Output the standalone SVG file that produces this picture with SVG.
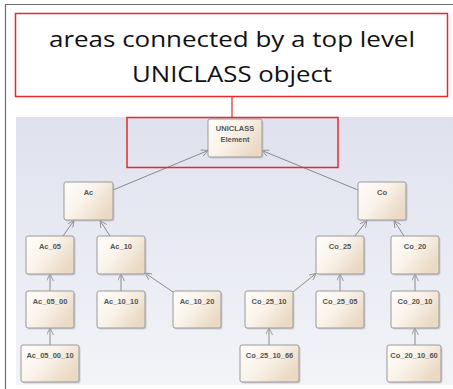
<svg xmlns="http://www.w3.org/2000/svg" width="453" height="389" viewBox="0 0 453 389">
<style>
.n rect.b{fill:url(#ng);stroke:#9a9a9a;stroke-width:1}
.n rect.s{fill:#b8b8c0;opacity:0.6}
.n text{font-family:"Liberation Sans",Arial,sans-serif;font-size:7.5px;font-weight:bold;fill:#555;text-anchor:middle}
.c line{stroke:#8a8a8a;stroke-width:1;marker-end:url(#ar)}
.t{font-family:"Open Sans","Liberation Sans",sans-serif;font-size:22px;fill:#111;text-anchor:middle}
</style>
<defs>
<linearGradient id="bg" x1="0" y1="0" x2="0" y2="1">
<stop offset="0" stop-color="#dfe1ee"/>
<stop offset="1" stop-color="#f3f4f8"/>
</linearGradient>
<linearGradient id="ng" x1="0" y1="0" x2="1" y2="0.6">
<stop offset="0" stop-color="#fffdfb"/>
<stop offset="0.5" stop-color="#faf3ea"/>
<stop offset="1" stop-color="#ead9c4"/>
</linearGradient>
<marker id="ar" viewBox="0 0 10 10" refX="10" refY="5" markerWidth="7" markerHeight="7" orient="auto" markerUnits="userSpaceOnUse">
<path d="M0,0 L10,5 L0,10" fill="none" stroke="#8a8a8a" stroke-width="1.2"/>
</marker>
</defs>
<rect width="453" height="389" fill="#fff"/>
<path d="M5.5,389 V4.5 H453" fill="none" stroke="#6e6e6e" stroke-width="1.2"/>
<rect x="16" y="117" width="437" height="268" fill="url(#bg)"/>

<g id="title">
<rect x="15.5" y="13.5" width="432" height="83" fill="#fff" stroke="#e8282c" stroke-width="1.5"/>
<text class="t" x="232" y="47" textLength="366" lengthAdjust="spacingAndGlyphs">areas connected by a top level</text>
<text class="t" x="232" y="82" textLength="200" lengthAdjust="spacingAndGlyphs">UNICLASS object</text>
<line x1="232" y1="97" x2="232" y2="117" stroke="#e8282c" stroke-width="1.2"/>
</g>

<g class="c" id="connectors">
<line x1="113" y1="190" x2="208" y2="150.5"/>
<line x1="358" y1="190" x2="262" y2="150.5"/>
<line x1="63" y1="236" x2="74" y2="220.5"/>
<line x1="110" y1="236" x2="100" y2="220.5"/>
<line x1="355" y1="236" x2="367" y2="220.5"/>
<line x1="404" y1="236" x2="394" y2="220.5"/>
<line x1="50" y1="291" x2="50" y2="274"/>
<line x1="121" y1="291" x2="121" y2="274"/>
<line x1="173" y1="292" x2="145" y2="273"/>
<line x1="50" y1="345" x2="50" y2="328"/>
<line x1="293" y1="292" x2="316" y2="273.5"/>
<line x1="340" y1="291" x2="340" y2="274"/>
<line x1="415" y1="291" x2="415" y2="274"/>
<line x1="269" y1="345" x2="269" y2="328"/>
<line x1="415" y1="345" x2="415" y2="328"/>
</g>

<g class="n" id="uniclass"><rect class="s" x="209.5" y="120.5" width="54" height="38" rx="2"/><rect class="b" x="208" y="119" width="54" height="38" rx="2"/><text x="235" y="131">UNICLASS</text><text x="235" y="141.5">Element</text></g>
<g class="n" id="ac"><rect class="s" x="65.5" y="183.5" width="49" height="38" rx="2"/><rect class="b" x="64" y="182" width="49" height="38" rx="2"/><text x="88.5" y="195">Ac</text></g>
<g class="n" id="co"><rect class="s" x="359.5" y="183.5" width="48" height="38" rx="2"/><rect class="b" x="358" y="182" width="48" height="38" rx="2"/><text x="382" y="195">Co</text></g>

<g class="n" id="ac_05"><rect class="s" x="27.5" y="237.5" width="48" height="38" rx="2"/><rect class="b" x="26" y="236" width="48" height="38" rx="2"/><text x="50" y="249">Ac_05</text></g>
<g class="n" id="ac_10"><rect class="s" x="98.5" y="237.5" width="48" height="38" rx="2"/><rect class="b" x="97" y="236" width="48" height="38" rx="2"/><text x="121" y="249">Ac_10</text></g>
<g class="n" id="co_25"><rect class="s" x="317.5" y="237.5" width="48" height="38" rx="2"/><rect class="b" x="316" y="236" width="48" height="38" rx="2"/><text x="340" y="249">Co_25</text></g>
<g class="n" id="co_20"><rect class="s" x="392.5" y="237.5" width="48" height="38" rx="2"/><rect class="b" x="391" y="236" width="48" height="38" rx="2"/><text x="415" y="249">Co_20</text></g>

<g class="n" id="ac_05_00"><rect class="s" x="27.5" y="292.5" width="48" height="37" rx="2"/><rect class="b" x="26" y="291" width="48" height="37" rx="2"/><text x="50" y="304">Ac_05_00</text></g>
<g class="n" id="ac_10_10"><rect class="s" x="98.5" y="292.5" width="48" height="37" rx="2"/><rect class="b" x="97" y="291" width="48" height="37" rx="2"/><text x="121" y="304">Ac_10_10</text></g>
<g class="n" id="ac_10_20"><rect class="s" x="174.5" y="292.5" width="48" height="37" rx="2"/><rect class="b" x="173" y="291" width="48" height="37" rx="2"/><text x="197" y="304">Ac_10_20</text></g>
<g class="n" id="co_25_10"><rect class="s" x="246.5" y="292.5" width="48" height="37" rx="2"/><rect class="b" x="245" y="291" width="48" height="37" rx="2"/><text x="269" y="304">Co_25_10</text></g>
<g class="n" id="co_25_05"><rect class="s" x="317.5" y="292.5" width="48" height="37" rx="2"/><rect class="b" x="316" y="291" width="48" height="37" rx="2"/><text x="340" y="304">Co_25_05</text></g>
<g class="n" id="co_20_10"><rect class="s" x="392.5" y="292.5" width="48" height="37" rx="2"/><rect class="b" x="391" y="291" width="48" height="37" rx="2"/><text x="415" y="304">Co_20_10</text></g>

<g class="n" id="ac_05_00_10"><rect class="s" x="22.5" y="346.5" width="58" height="37" rx="2"/><rect class="b" x="21" y="345" width="58" height="37" rx="2"/><text x="50" y="358">Ac_05_00_10</text></g>
<g class="n" id="co_25_10_66"><rect class="s" x="241.5" y="346.5" width="59" height="37" rx="2"/><rect class="b" x="240" y="345" width="59" height="37" rx="2"/><text x="269.5" y="358">Co_25_10_66</text></g>
<g class="n" id="co_20_10_60"><rect class="s" x="388.5" y="346.5" width="54" height="37" rx="2"/><rect class="b" x="387" y="345" width="54" height="37" rx="2"/><text x="414" y="358">Co_20_10_60</text></g>

<g id="highlight"><rect x="127" y="117.5" width="211" height="50" fill="none" stroke="#e8282c" stroke-width="1.5"/></g>
</svg>
